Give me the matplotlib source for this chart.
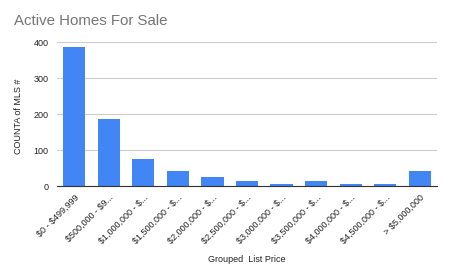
import matplotlib
matplotlib.use("Agg")
import matplotlib.pyplot as plt

categories = ["$0 - $499,999", "$500,000 - $9...", "$1,000,000 - $...", "$1,500,000 - $...",
              "$2,000,000 - $...", "$2,500,000 - $...", "$3,000,000 - $...", "$3,500,000 - $...",
              "$4,000,000 - $...", "$4,500,000 - $...", "> $5,000,000"]
counts = [387, 185, 74, 43, 26, 14, 6, 14, 6, 6, 43]
yticks = [0, 100, 200, 300, 400]

plt.rcParams['font.family'] = ['Liberation Sans', 'DejaVu Sans']
plt.rcParams['text.parse_math'] = False
W, H = 451, 279
fig = plt.figure(figsize=(W/100, H/100), dpi=100)
ax = fig.add_axes([57/W, 1-186/H, (437-57)/W, (186-42)/H])
x = range(len(categories))
ax.bar(x, counts, width=0.64, color="#4285F4", zorder=3)
ax.set_ylim(0, 400)
ax.set_xlim(-0.5, len(categories)-0.5)
ax.set_yticks(yticks)
ax.set_yticklabels([str(v) for v in yticks], fontsize=6.5, color="#222222")
ax.set_xticks(list(x))
ax.set_xticklabels(categories, rotation=45, ha="right", rotation_mode="anchor", fontsize=6.5, color="#222222")
ax.tick_params(axis="y", length=0, pad=6)
ax.tick_params(axis="x", length=0, pad=5)
ax.grid(axis="y", color="#cccccc", linewidth=0.8, zorder=0)
for s in ["top", "right", "left"]:
    ax.spines[s].set_visible(False)
ax.spines["bottom"].set_color("#333333")
ax.spines["bottom"].set_linewidth(0.8)
ax.spines["bottom"].set_zorder(4)
fig.text(19/W, 1-116/H, "COUNTA of MLS #", fontsize=6.5, color="#222222", ha="center", va="center", rotation=90)
fig.text(247/W, 1-259/H, "Grouped  List Price", fontsize=6.5, color="#222222", ha="center", va="center")
fig.text(14/W, 1-21/H, "Active Homes For Sale", fontsize=10.8, color="#757575", ha="left", va="center")
fig.savefig("out.png", dpi=100)
